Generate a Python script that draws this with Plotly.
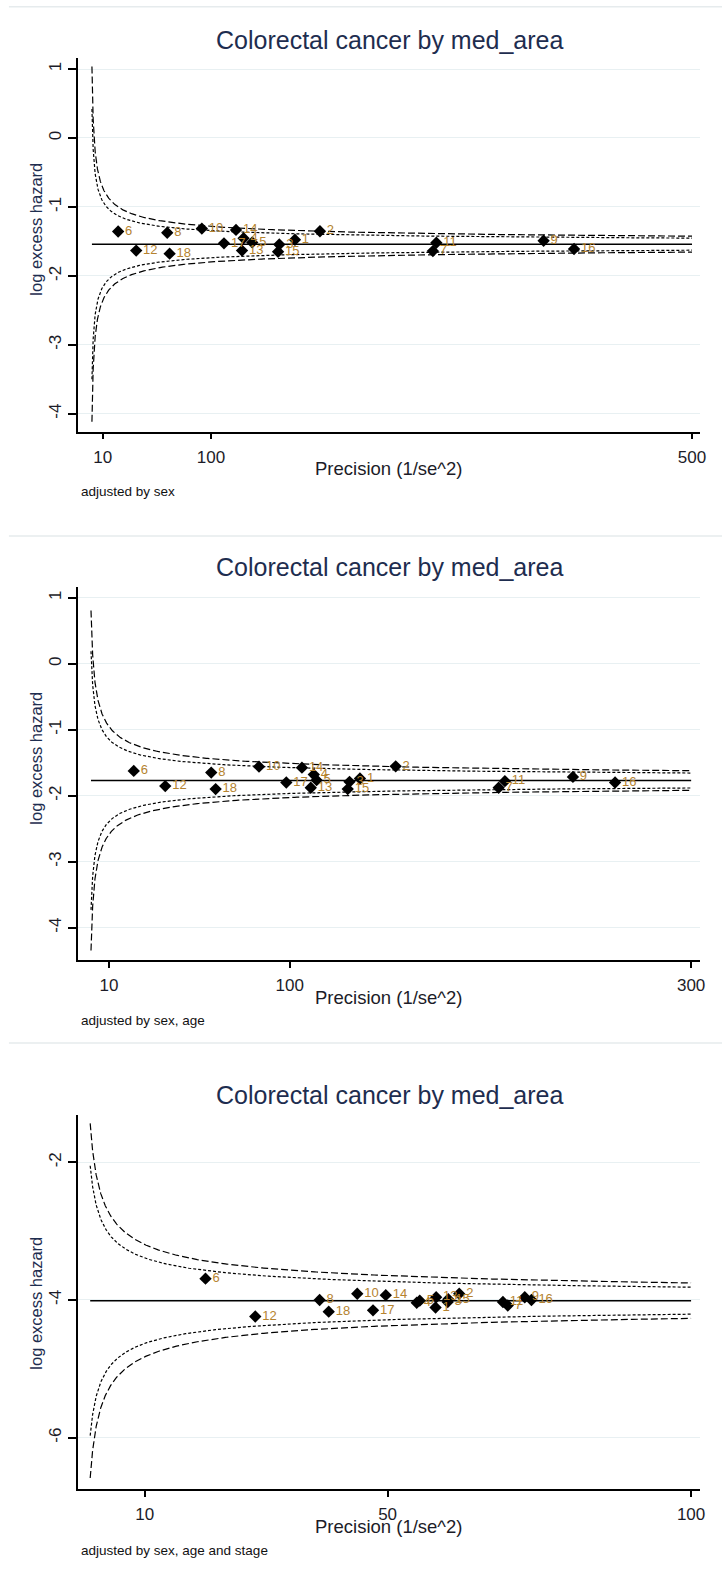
import numpy as np
import plotly.graph_objects as go

W, H = 728, 1573
FONT = "Liberation Sans, Arial, sans-serif"

labels = [str(i) for i in range(1, 19)]

# Panel 1: adjusted by sex
prec1 = [169.8, 190.6, 156.8, 127.1, 134.3, 22.8, 284.5, 63.6, 376.6,
         92.4, 287.4, 37.8, 125.8, 120.8, 155.8, 401.9, 110.8, 65.6]
lhaz1 = [-1.476, -1.352, -1.545, -1.455, -1.515, -1.357, -1.64, -1.375, -1.49,
         -1.314, -1.52, -1.633, -1.633, -1.333, -1.65, -1.61, -1.528, -1.678]
mean1 = -1.54

# Panel 2: adjusted by sex, age
prec2 = [135.0, 152.8, 129.8, 112.0, 113.4, 22.3, 204.1, 60.9, 241.1,
         84.7, 207.2, 38.0, 110.5, 106.1, 128.9, 262.1, 98.3, 63.1]
lhaz2 = [-1.74, -1.555, -1.79, -1.68, -1.765, -1.625, -1.88, -1.65, -1.715,
         -1.56, -1.78, -1.855, -1.88, -1.575, -1.90, -1.80, -1.80, -1.90]
mean2 = -1.77

# Panel 3: adjusted by sex, age and stage
prec3 = [57.9, 61.8, 59.9, 54.8, 55.3, 20.0, 69.8, 38.8, 72.6,
         45.0, 69.0, 28.2, 58.0, 49.7, 60.0, 73.7, 47.6, 40.3]
lhaz3 = [-4.11, -3.91, -4.03, -4.04, -4.01, -3.69, -4.08, -4.00, -3.96,
         -3.91, -4.03, -4.24, -3.96, -3.93, -3.99, -4.00, -4.15, -4.17]
mean3 = -4.01

title_text = "Colorectal cancer by med_area"
xtitle = "Precision (1/se^2)"
ytitle = "log excess hazard"
notes = ["adjusted by sex", "adjusted by sex, age", "adjusted by sex, age and stage"]
xticks = [[10, 100, 500], [10, 100, 300], [10, 50, 100]]
yticks = [[-4, -3, -2, -1, 0, 1], [-4, -3, -2, -1, 0, 1], [-6, -4, -2]]
z_inner, z_outer = 1.96, 2.576
p_min = 1.0

panels = [
    dict(prec=prec1, lhaz=lhaz1, mean=mean1, pmax=500, xr=[-10.3, 506.8], yr=[-4.26, 1.16],
         top=58, bot=431.7, ty=40, xty=469, ny=491.7, yty=229, sep=6.7),
    dict(prec=prec2, lhaz=lhaz2, mean=mean2, pmax=300, xr=[-5.3, 304.5], yr=[-4.49, 1.167],
         top=586.7, bot=960, ty=566.7, xty=997, ny=1020, yty=758, sep=536),
    dict(prec=prec3, lhaz=lhaz3, mean=mean3, pmax=100, xr=[-0.95, 101.5], yr=[-6.75, -1.313],
         top=1115, bot=1489.3, ty=1095, xty=1526.7, ny=1550, yty=1303, sep=1043),
]

X0, X1 = 79, 706
fig = go.Figure()
annotations = []
shapes = []

def py(px):
    return 1 - px / H

for i, pn in enumerate(panels):
    k = "" if i == 0 else str(i + 1)
    xa, ya = "x" + k, "y" + k
    pgrid = np.geomspace(p_min, pn["pmax"], 500)
    m = pn["mean"]
    for z, dash in [(z_outer, "7px,3px"), (z_inner, "3px,2px")]:
        for sgn in (1, -1):
            fig.add_trace(go.Scatter(x=pgrid, y=m + sgn * z / np.sqrt(pgrid), mode="lines",
                                     line=dict(color="black", width=1.2, dash=dash),
                                     xaxis=xa, yaxis=ya, hoverinfo="skip", showlegend=False))
    fig.add_trace(go.Scatter(x=[p_min, pn["pmax"]], y=[m, m], mode="lines",
                             line=dict(color="black", width=1.5), xaxis=xa, yaxis=ya,
                             showlegend=False))
    fig.add_trace(go.Scatter(x=pn["prec"], y=pn["lhaz"], mode="markers+text", text=labels,
                             textposition="middle right",
                             textfont=dict(family=FONT, size=13, color="#b5832f"),
                             marker=dict(symbol="diamond", size=9.5, color="black"),
                             xaxis=xa, yaxis=ya, showlegend=False))
    axcommon = dict(showline=True, linecolor="black", linewidth=1.5, ticks="outside",
                    tickwidth=1.5, tickcolor="black", zeroline=False,
                    tickfont=dict(family=FONT, size=17, color="#1c1c28"))
    fig.layout["xaxis" + k] = dict(axcommon, domain=[X0 / W, X1 / W], range=pn["xr"],
                                   tickvals=xticks[i], showgrid=False, ticklen=6,
                                   anchor=ya, ticklabelstandoff=3)
    fig.layout["yaxis" + k] = dict(axcommon, domain=[py(pn["bot"]), py(pn["top"])],
                                   range=pn["yr"], tickmode="array", tickvals=yticks[i],
                                   ticktext=[str(v) for v in yticks[i]], ticklen=9,
                                   showgrid=True, gridcolor="#e8f0f2", gridwidth=1.2,
                                   anchor=xa)
    annotations += [
        dict(text=title_text, x=(X0 + X1) / 2 / W, y=py(pn["ty"]), xref="paper", yref="paper",
             showarrow=False, xanchor="center", yanchor="middle",
             font=dict(family=FONT, size=25, color="#1e2d4f")),
        dict(text=xtitle, x=(X0 + X1) / 2 / W, y=py(pn["xty"]), xref="paper", yref="paper",
             showarrow=False, xanchor="center", yanchor="middle",
             font=dict(family=FONT, size=18.5, color="#1c1c28")),
        dict(text=notes[i], x=80 / W, y=py(pn["ny"]), xref="paper", yref="paper",
             showarrow=False, xanchor="left", yanchor="middle",
             font=dict(family=FONT, size=13.5, color="#111111")),
        dict(text=ytitle, x=36 / W, y=py(pn["yty"]), xref="paper", yref="paper",
             showarrow=False, xanchor="center", yanchor="middle", textangle=-90,
             font=dict(family=FONT, size=16.5, color="#1e2d4f")),
    ]
    shapes.append(dict(type="line", xref="paper", yref="paper", x0=9 / W, x1=1,
                       y0=py(pn["sep"]), y1=py(pn["sep"]),
                       line=dict(color="#e6ebed", width=1.5)))

fig.update_layout(width=W, height=H, autosize=False, margin=dict(l=0, r=0, t=0, b=0),
                  paper_bgcolor="white", plot_bgcolor="white", annotations=annotations,
                  shapes=shapes, showlegend=False)
fig.update_yaxes(tickangle=-90, ticklabelstandoff=0)
fig.write_html("out.html", config={"displayModeBar": False},
               post_script="document.body.style.margin='0';document.body.style.padding='0';")
